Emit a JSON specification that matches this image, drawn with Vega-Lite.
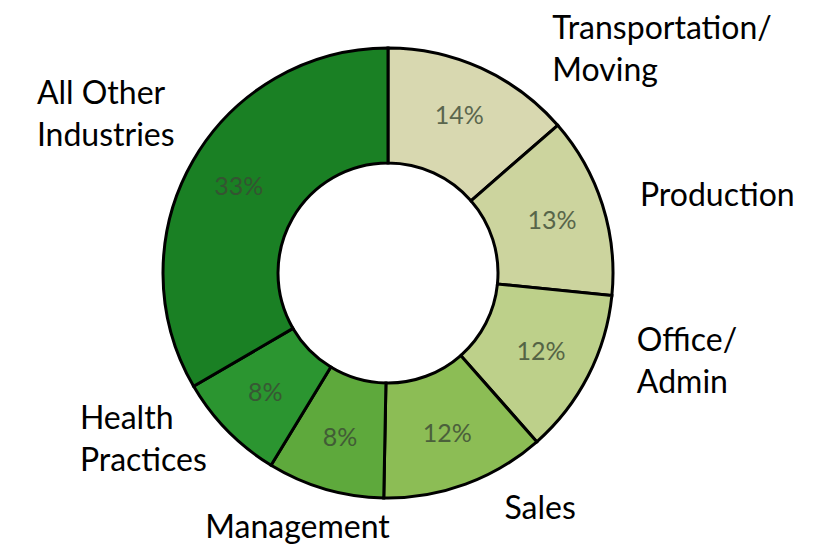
{
  "$schema": "https://vega.github.io/schema/vega-lite/v6.json",
  "width": 776,
  "height": 546,
  "autosize": {"type": "none"},
  "padding": {"left": 0, "right": 51, "top": 0, "bottom": 0},
  "background": "white",
  "config": {"view": {"stroke": null}},
  "data": {
    "values": [
      {"id": "T", "order": 1, "category": "Transportation/\nMoving", "value": 0.136},
      {"id": "P", "order": 2, "category": "Production", "value": 0.130},
      {"id": "O", "order": 3, "category": "Office/\nAdmin", "value": 0.119},
      {"id": "S", "order": 4, "category": "Sales", "value": 0.118},
      {"id": "M", "order": 5, "category": "Management", "value": 0.084},
      {"id": "H", "order": 6, "category": "Health\nPractices", "value": 0.079},
      {"id": "A", "order": 7, "category": "All Other\nIndustries", "value": 0.334}
    ]
  },
  "encoding": {
    "theta": {"field": "value", "type": "quantitative", "stack": true},
    "order": {"field": "order", "type": "quantitative"}
  },
  "layer": [
    {
      "mark": {"type": "arc", "outerRadius": 225, "innerRadius": 110, "stroke": "black", "strokeWidth": 3},
      "encoding": {
        "color": {
          "field": "id",
          "type": "nominal",
          "scale": {
            "domain": ["T", "P", "O", "S", "M", "H", "A"],
            "range": ["#d8d8b0", "#ccd49e", "#bdd08a", "#8cbd55", "#5ea93c", "#2b9530", "#1a8024"]
          },
          "legend": null
        }
      }
    },
    {
      "mark": {"type": "text", "radius": 172, "align": "center", "baseline": "middle", "font": "Lato", "fontSize": 25, "color": "#3b4a35", "opacity": 0.8},
      "encoding": {
        "text": {"field": "value", "type": "quantitative", "format": ".0%"}
      }
    },
    {
      "mark": {
        "type": "text",
        "radius": 300,
        "align": "left",
        "baseline": "alphabetic",
        "font": "Lato",
        "fontSize": 32,
        "lineHeight": 42,
        "lineBreak": "\n",
        "color": "black",
        "dx": {"expr": "datum.id=='T'?40:datum.id=='P'?-34:datum.id=='O'?-18:datum.id=='S'?13:datum.id=='M'?-99:datum.id=='H'?-94:-91"},
        "dy": {"expr": "datum.id=='T'?39:datum.id=='P'?24:datum.id=='O'?-59:datum.id=='S'?-36:datum.id=='M'?-23:datum.id=='H'?-54:-20"}
      },
      "encoding": {
        "text": {"field": "category", "type": "nominal"}
      }
    }
  ]
}
